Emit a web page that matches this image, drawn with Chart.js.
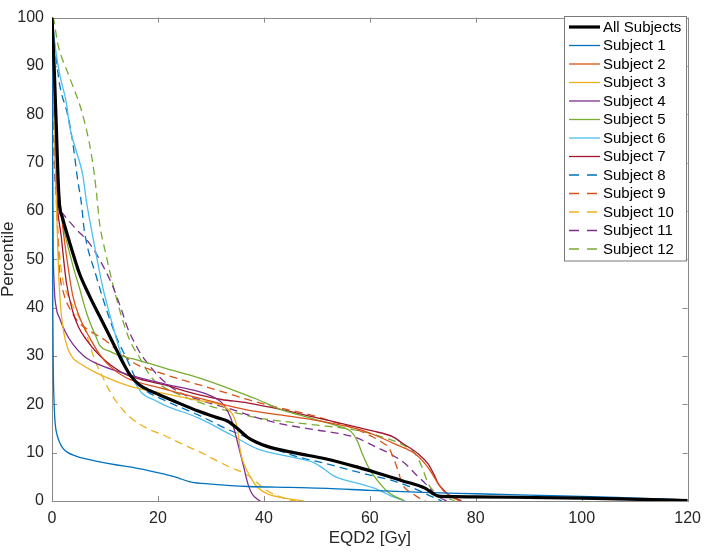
<!DOCTYPE html>
<html>
<head>
<meta charset="utf-8">
<script src="https://cdn.jsdelivr.net/npm/chart.js@4/dist/chart.umd.min.js"></script>
<style>
  html, body { margin: 0; padding: 0; background: #fff; }
  #wrap { width: 709px; height: 552px; position: relative; }
</style>
</head>
<body>
<div id="wrap"><canvas id="c"></canvas></div>
<script>
// ---- Data (EQD2 [Gy], Percentile) ----
const seriesNames = ["All Subjects","Subject 1","Subject 2","Subject 3","Subject 4","Subject 5","Subject 6","Subject 7","Subject 8","Subject 9","Subject 10","Subject 11","Subject 12"];
const xTicks = [0, 20, 40, 60, 80, 100, 120];
const yTicks = [0, 10, 20, 30, 40, 50, 60, 70, 80, 90, 100];

const allSubjects = [[0,100],[0.4,90],[0.8,78],[1.1,68],[1.4,61.5],[2,58.5],[2.7,55.8],[3.9,51.4],[5.2,47],[7,42.6],[9,38.2],[10.8,34.3],[12.3,31],[13.5,28.4],[14.8,26],[16.4,24.1],[18.5,22.8],[20,22.1],[23,20.7],[27.6,18.6],[31,17.3],[33.2,16.5],[35,15],[36.9,13.2],[38.5,12.2],[40.6,11.3],[45.6,10],[51.8,8.7],[58,6.9],[61.1,5.9],[66.1,4.2],[70.5,2.6],[72,1.5],[72.9,1.0],[76,0.9],[80,0.85],[100,0.6],[120,0.1]];
const subject1 = [[0,100],[0.05,80],[0.1,60],[0.15,40],[0.25,27],[0.4,20],[0.6,16],[1,13.5],[1.5,12],[2,11],[3,10],[4.5,9.3],[6,8.8],[9,8.1],[12,7.5],[15,7],[18.2,6.3],[21,5.6],[23.2,5],[24.5,4.5],[26.3,3.9],[30,3.5],[37,3],[45,2.8],[52,2.6],[60,2.2],[70,1.8],[80,1.5],[90,1.2],[100,0.95],[110,0.6],[120,0.25]];
const subject2 = [[0,100],[0.3,90],[0.7,78],[1.2,66],[2,57],[2.7,51],[3.9,42.6],[5.2,38],[7,34],[8.9,30.5],[10.8,28],[14,25.5],[20,23.5],[27,21.5],[33,19.8],[37,18.8],[43,17.8],[49.3,16.8],[55,15.6],[58,14.8],[61,13.6],[64.9,11.7],[68.6,9.7],[71,6.9],[72.9,3.6],[74,2],[75.4,0.9],[77,0]];
const subject3 = [[0,100],[0.3,85],[0.7,68],[1.1,52],[1.5,42],[2.2,35],[3,31.5],[4,29.5],[5.2,28.5],[8,26.7],[10.8,25.3],[15.1,23.6],[21.3,22.2],[27.6,20.8],[32.5,19.5],[34.3,17.5],[35,15],[35.6,10],[36.5,7],[37.5,4.9],[38.5,3.2],[39.5,2.2],[41,1.3],[42.5,0.9],[45,0.4],[47.5,0]];
const subject4 = [[0,100],[0.1,75],[0.2,55],[0.4,45],[0.8,40],[1.4,37.9],[2.5,35],[3.9,32.5],[6,30],[8.9,28.2],[13.9,26.3],[21.3,24.2],[27.6,22.7],[30.5,21.5],[32.5,19.8],[33.8,17],[34.6,14],[35.4,10.5],[36.2,7],[37,3.5],[37.7,1.6],[38.5,0.6],[39.3,0]];
const subject5 = [[0,100],[0.4,85],[0.9,72],[1.5,62],[2.1,57],[2.7,54],[4,48.5],[5.2,44],[6.5,39],[7.5,36],[8.3,34],[9,32.2],[10.8,31],[13,30],[16,29.2],[21.3,27.5],[27.6,25.5],[33.8,23.1],[38.8,21],[43,19],[49.3,17],[54,15.5],[56.5,14.3],[57.6,12.5],[58.5,10],[59.5,7.5],[60.5,5.6],[62,3.5],[63.5,1.8],[65,0.8],[66.3,0.2]];
const subject6 = [[0,100],[0.3,97],[0.6,94],[1.5,88],[2.7,82.4],[3.3,77.6],[4.6,72.3],[5.8,67.5],[6.5,62],[7.7,54.7],[9.5,44.6],[11.4,36.6],[13.2,29.8],[14.5,26.5],[15.7,24.4],[17,22.3],[19.5,20.8],[21.3,19.8],[27.6,17.2],[33.8,13.7],[38.8,10.8],[45.6,9],[49.5,7.9],[51.5,6.5],[53,5.3],[55,4.4],[58,3.6],[61,2.6],[63,1.6],[64.3,0.9],[66.7,0]];
const subject7 = [[0,100],[0.3,85],[0.8,65],[1.75,54.7],[2.7,45.3],[3.9,39.3],[5,36],[6.4,33.5],[8.9,30.2],[11,28.2],[13.9,26.2],[21.3,24],[27.6,22],[32,21],[36.9,20.3],[46.2,18.2],[55.5,15.8],[60.5,14.5],[64.3,13.3],[66.1,12],[69.2,9.7],[71,7.7],[72.1,5.5],[72.9,3.6],[74,2.2],[74.8,1.4],[76,0.6],[77.3,0.1]];
const subject8 = [[0,100],[0.2,97],[0.5,94.5],[1.4,86.4],[3,79.7],[3.9,74.3],[4.9,66],[5.5,62],[6.1,56],[8.3,46.7],[10.8,37.9],[12.5,33],[13.9,29.9],[15.1,27],[16.2,24.5],[17.5,23],[21.3,20.8],[27.6,17.8],[33.2,14.8],[36,13.5],[39.3,11.9],[45.6,9.4],[51.8,7.7],[58,5.9],[64.3,4.2],[67,3.2],[69.2,2.2],[71.7,0.9],[73.6,0]];
const subject9 = [[0,100],[0.3,85],[0.7,68],[1.1,55],[1.4,48],[2.2,43],[3.5,39.5],[5,37],[7,35.3],[10.1,33.2],[13,30.5],[16.4,28],[18.5,27.2],[24.4,25.1],[30.7,23.1],[36.9,21],[42,19.5],[47,18.3],[52,16.8],[57,15],[60.5,13.3],[62.5,12],[63.6,11],[64.6,8.5],[65.4,6],[66.1,3.6],[67,2.3],[68,1.6],[69.2,0.7],[70.5,0.1]];
const subject10 = [[0,100],[0.2,85],[0.5,72],[0.8,62],[1.2,54],[2,46],[3,42.5],[4.5,39.2],[5.8,36.6],[6.8,33.5],[7.8,30],[8.6,27.8],[9.5,25.8],[11,22.5],[12.6,19.9],[15.1,17],[18,15],[21.3,13.5],[24.5,11.8],[27.6,10.3],[31,8.4],[33.8,6.9],[36,5.9],[37.5,4.9],[38.8,3.7],[40,2.6],[41.5,1.6],[43,0.9],[44.5,0.3],[46,0]];
const subject11 = [[0,100],[0.2,85],[0.4,72],[0.8,63],[2,59.5],[4.6,56.2],[7,53.4],[8.9,50.1],[11.4,44.6],[13.2,39.3],[14.2,36],[15.7,32.5],[17,30],[18.2,28.3],[19.7,26.3],[21.3,24.6],[24,22.5],[27.6,21],[33.8,19],[38.8,17.2],[43,16],[49.3,14.8],[57.4,13.1],[61.1,11.2],[63.6,9.9],[66.7,7.7],[68.5,5.7],[70.5,3.6],[71.8,2],[72.9,0.9],[74.5,0]];
const subject12 = [[0,100],[0.2,99.9],[1.1,94.5],[3.3,87.7],[5.5,81],[7,74.3],[8,67.5],[8.6,61.5],[8.9,58.1],[10.1,51.4],[12,42.6],[13.9,35.5],[15,32.5],[16.4,29.9],[18.8,25.5],[21,23.6],[23.2,22.4],[29.4,19.8],[35.6,18],[38.8,17.2],[45,16.3],[50,15.7],[55.5,15],[60,14],[63,13],[66.1,11.7],[68.6,9.7],[69.9,6.9],[71,3.6],[72.3,1.8],[73.6,0.9],[76,0.1]];

const seriesData = [allSubjects, subject1, subject2, subject3, subject4, subject5, subject6, subject7, subject8, subject9, subject10, subject11, subject12];

// ---- Styles ----
const colors = ["#000000","#0072BD","#D95319","#EDB120","#7E2F8E","#77AC30","#4DBEEE","#A2142F","#0072BD","#D95319","#EDB120","#7E2F8E","#77AC30"];
const dashes = [[],[],[],[],[],[],[],[],[8,5],[8,5],[8,5],[8,5],[8,5]];
const widths = [3.2,1.3,1.3,1.3,1.3,1.3,1.3,1.3,1.3,1.3,1.3,1.3,1.3];

const datasets = seriesNames.map((name, i) => ({
  label: name,
  data: seriesData[i].map(p => ({x: p[0], y: p[1]})),
  borderColor: colors[i],
  backgroundColor: colors[i],
  borderWidth: widths[i],
  borderDash: dashes[i],
  pointRadius: 0,
  fill: false,
  tension: 0.3,
  cubicInterpolationMode: 'monotone'
}));

const AXIS_COLOR = '#8a8a8a';
const TEXT_COLOR = '#262626';

const boxPlugin = {
  id: 'matlabBox',
  beforeDatasetsDraw(chart) {
    const {ctx, chartArea: a, scales} = chart;
    ctx.save();
    ctx.strokeStyle = AXIS_COLOR;
    ctx.lineWidth = 1;
    ctx.strokeRect(Math.round(a.left) + 0.5, Math.round(a.top) + 0.5, Math.round(a.right - a.left), Math.round(a.bottom - a.top));
    const tl = 5;
    ctx.beginPath();
    scales.x.ticks.forEach(t => {
      const px = Math.round(scales.x.getPixelForValue(t.value)) + 0.5;
      ctx.moveTo(px, a.bottom); ctx.lineTo(px, a.bottom - tl);
      ctx.moveTo(px, a.top); ctx.lineTo(px, a.top + tl);
    });
    scales.y.ticks.forEach(t => {
      const py = Math.round(scales.y.getPixelForValue(t.value)) + 0.5;
      ctx.moveTo(a.left, py); ctx.lineTo(a.left + tl, py);
      ctx.moveTo(a.right, py); ctx.lineTo(a.right - tl, py);
    });
    ctx.stroke();
    ctx.restore();
  },
  afterDraw(chart) {
    const {ctx} = chart;
    const ds = chart.data.datasets;
    const x0 = 564, y0 = 16, w = 122, rowH = 18.5;
    const h = rowH * ds.length + 4;
    ctx.save();
    ctx.fillStyle = '#ffffff';
    ctx.fillRect(x0, y0, w, h);
    ctx.strokeStyle = '#7a7a7a';
    ctx.lineWidth = 1;
    ctx.strokeRect(x0 + 0.5, y0 + 0.5, w, h);
    ctx.font = '15px "Liberation Sans", Arial, Helvetica, sans-serif';
    ctx.textBaseline = 'middle';
    ctx.textAlign = 'left';
    ds.forEach((d, i) => {
      const cy = y0 + 11 + i * rowH;
      ctx.beginPath();
      ctx.strokeStyle = d.borderColor;
      ctx.lineWidth = d.borderWidth;
      ctx.setLineDash(d.borderDash && d.borderDash.length ? [10, 8] : []);
      ctx.moveTo(569, cy); ctx.lineTo(600, cy);
      ctx.stroke();
      ctx.setLineDash([]);
      ctx.fillStyle = '#000000';
      ctx.fillText(d.label, 603, cy + 0.5);
    });
    ctx.restore();
  }
};

const fontFamily = '"Liberation Sans", Arial, Helvetica, sans-serif';

new Chart(document.getElementById('c'), {
  type: 'line',
  data: { datasets },
  options: {
    responsive: true,
    maintainAspectRatio: false,
    animation: false,
    layout: { padding: { top: 6, right: 13, left: 0, bottom: 0 } },
    plugins: { legend: { display: false }, tooltip: { enabled: false } },
    scales: {
      x: {
        type: 'linear',
        min: 0, max: 120,
        afterBuildTicks(scale) { scale.ticks = xTicks.map(v => ({value: v})); },
        afterFit(scale) { scale.height = 51; },
        grid: { display: false, drawTicks: false },
        border: { display: false },
        ticks: { color: TEXT_COLOR, font: { family: fontFamily, size: 16 }, padding: 8, maxRotation: 0, autoSkip: false },
        title: { display: true, text: 'EQD2 [Gy]', color: TEXT_COLOR, font: { family: fontFamily, size: 17 }, padding: { top: 0, bottom: 3 } }
      },
      y: {
        type: 'linear',
        min: 0, max: 100,
        afterBuildTicks(scale) { scale.ticks = yTicks.map(v => ({value: v})); },
        afterFit(scale) { scale.width = 52; },
        grid: { display: false, drawTicks: false },
        border: { display: false },
        ticks: { color: TEXT_COLOR, font: { family: fontFamily, size: 16 }, padding: 8, autoSkip: false },
        title: { display: true, text: 'Percentile', color: TEXT_COLOR, font: { family: fontFamily, size: 17, lineHeight: 1 }, padding: { top: 0, bottom: 0 } }
      }
    }
  },
  plugins: [boxPlugin]
});
</script>
</body>
</html>
